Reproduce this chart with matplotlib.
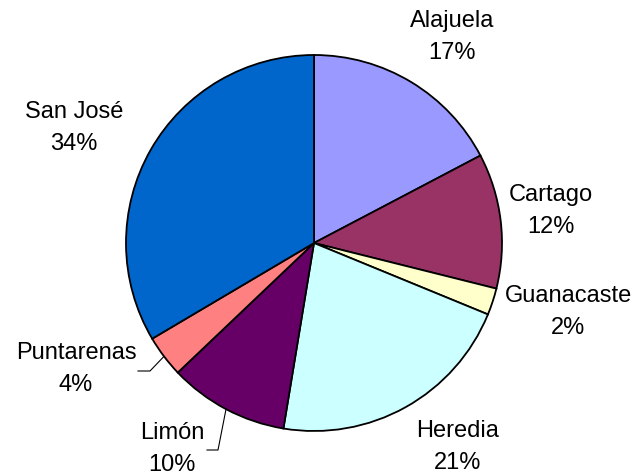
import numpy as np
import matplotlib
matplotlib.use("Agg")
import matplotlib.pyplot as plt

provinces = ["Alajuela", "Cartago", "Guanacaste", "Heredia", "Limón", "Puntarenas", "San José"]
shares = [17.3, 11.6, 2.3, 21.4, 10.3, 3.6, 33.5]
colors = ["#9999FF", "#993366", "#FFFFCC", "#CCFFFF", "#660066", "#FF8080", "#0066CC"]

# label centres in pixels of the 637x475 picture (pie centre 314,243, radius 188)
label_px = [(452, 37), (551, 211), (568, 312), (458, 447), (172, 449), (76, 369), (74, 128)]
# elbow of leader line, end of leader line (pixels); None = no leader
leader_px = [None, None, None, None, ((218, 450), (207, 450)), ((150, 371), (138, 371)), None]

plt.rcParams['font.family'] = ['Liberation Sans', 'DejaVu Sans']

W, H = 637, 475
cx, cy, R = 314, 243, 188
fig = plt.figure(figsize=(W / 100, H / 100), dpi=100)
ax = fig.add_axes([(cx - R) / W, (H - cy - R) / H, 2 * R / W, 2 * R / H])

wedges, _ = ax.pie(shares, colors=colors, startangle=90, counterclock=False,
                   radius=1.0, wedgeprops=dict(edgecolor="black", linewidth=1.3))
ax.set_xlim(-1, 1)
ax.set_ylim(-1, 1)
ax.set_aspect('equal')
ax.axis('off')


def to_data(p):
    return ((p[0] - cx) / R, (cy - p[1]) / R)


total = sum(shares)
for w, name, val, lp, ld in zip(wedges, provinces, shares, label_px, leader_px):
    x, y = to_data(lp)
    ax.text(x, y, f"{name}\n{round(val / total * 100)}%", ha='center', va='center',
            fontsize=17, linespacing=1.58, clip_on=False)
    if ld is not None:
        mid = np.deg2rad((w.theta1 + w.theta2) / 2)
        ex, ey = np.cos(mid), np.sin(mid)
        (bx, by), (tx, ty) = to_data(ld[0]), to_data(ld[1])
        ax.plot([ex, bx, tx], [ey, by, ty], color="black", linewidth=0.8, clip_on=False)

fig.savefig("out.png", dpi=100)
